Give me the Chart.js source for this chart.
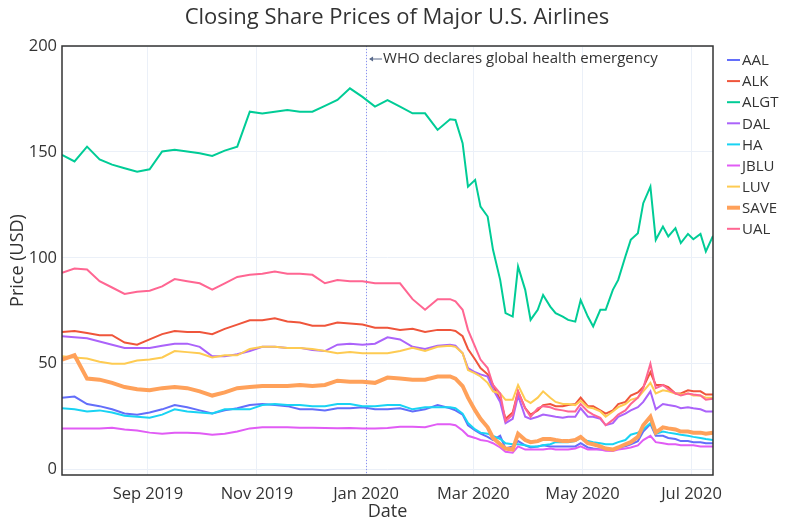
<!DOCTYPE html>
<html>
<head>
<meta charset="utf-8">
<script src="https://cdn.jsdelivr.net/npm/chart.js@4.4.1/dist/chart.umd.min.js"></script>
<style>
  html, body { margin: 0; padding: 0; background: #fff; }
  #wrap { width: 794px; height: 523px; position: relative; }
</style>
</head>
<body>
<div id="wrap"><canvas id="chart"></canvas></div>
<script>
// weekly closes until mid Feb, then Mon/Thu closes through the crash
const dates = [
  "2019-07-15", "2019-07-22", "2019-07-29", "2019-08-05", "2019-08-12", "2019-08-19", "2019-08-26",
  "2019-09-02", "2019-09-09", "2019-09-16", "2019-09-23", "2019-09-30", "2019-10-07", "2019-10-14",
  "2019-10-21", "2019-10-28", "2019-11-04", "2019-11-11", "2019-11-18", "2019-11-25", "2019-12-02",
  "2019-12-09", "2019-12-16", "2019-12-23", "2019-12-30", "2020-01-06", "2020-01-13", "2020-01-20",
  "2020-01-27", "2020-02-03", "2020-02-10", "2020-02-17",
  "2020-02-20", "2020-02-24", "2020-02-27", "2020-03-02", "2020-03-05", "2020-03-09", "2020-03-12",
  "2020-03-16", "2020-03-19", "2020-03-23", "2020-03-26", "2020-03-30", "2020-04-02", "2020-04-06",
  "2020-04-09", "2020-04-13", "2020-04-16", "2020-04-20", "2020-04-23", "2020-04-27", "2020-04-30",
  "2020-05-04", "2020-05-07", "2020-05-11", "2020-05-14", "2020-05-18", "2020-05-21", "2020-05-25",
  "2020-05-28", "2020-06-01", "2020-06-04", "2020-06-08", "2020-06-11", "2020-06-15", "2020-06-18",
  "2020-06-22", "2020-06-25", "2020-06-29", "2020-07-02", "2020-07-06", "2020-07-09", "2020-07-13"
];

const aal = [34, 34.5, 31, 30, 28.5, 26.5, 26, 27, 28.5, 30.5, 29.5, 28, 26.5, 28, 29, 30.5, 31, 30.5, 30, 28.5,
  28.5, 28, 29, 29, 29.5, 28.5, 28.5, 29, 27.5, 28.5, 30.5, 29,
  28, 26, 21, 18.5, 17, 15.5, 14, 16, 10, 11, 13.5, 11.5, 10.5, 11, 11.5, 11, 11, 11, 11, 11,
  12.5, 10.5, 10, 9.5, 9.5, 9.5, 10.5, 11, 12, 13.5, 18, 21.5, 16, 16, 15, 14.5, 13.5, 13.5, 13, 13, 12.5, 12.5];
const alk = [65, 65.5, 64.5, 63.5, 63.5, 60, 59, 61.5, 64, 65.5, 65, 65, 64, 66.5, 68.5, 70.5, 70.5, 71.5, 70, 69.5,
  68, 68, 69.5, 69, 68.5, 67, 67, 66, 66.5, 65, 66, 66,
  65.5, 63, 57, 52, 48, 45, 40, 33, 24, 27, 37, 29, 26, 28, 30.5, 31, 30, 30, 30.5, 31,
  34, 30, 30, 28, 26.5, 28, 31, 32, 35, 36.5, 39, 46, 40, 40, 39, 36, 36, 37.5, 37, 37, 35.5, 35.5];
const algt = [148.6, 145.5, 152.5, 146.5, 144, 142.3, 140.7, 141.8, 150.2, 151, 150.2, 149.4, 148.1, 150.6, 152.5,
  169, 168.2, 169, 169.8, 169, 169, 171.7, 174.5, 180, 176, 171.4, 174.5, 171.4, 168.2, 168.2, 160.4, 165.4,
  165.1, 154.1, 133.6, 136.8, 124.2, 119.5, 103.8, 89.6, 73.9, 72.3, 95.9, 84.9, 70.7, 75.5, 82.5, 77, 73.9, 72.3,
  70.7, 69.9, 80.1, 72.3, 67.6, 75.5, 75.5, 84.9, 89.6, 100.6, 108.5, 111.6, 125.8, 133.6, 108.5, 114.8, 110.1,
  114, 107, 111.3, 108.8, 111.3, 103, 110.4];
const dal = [63, 62.5, 62, 60.5, 59, 57.5, 57.5, 57.5, 58.5, 59.5, 59.5, 58, 53.5, 53.5, 54.5, 56, 58, 58, 57.5, 57.5,
  56.5, 56, 59, 59.5, 59, 59.5, 62.5, 61.5, 58, 57, 58.5, 59,
  58.5, 55, 48, 46, 45, 44, 38, 32, 22, 24, 35, 25, 24, 25, 26, 25.5, 25, 24.5, 25, 25,
  29, 25, 25, 24, 21, 22, 25, 26.5, 28, 29.5, 32, 37, 28.5, 31, 30.5, 30, 29, 29.5, 29, 28.5, 27.5, 27.5];
const ha = [29, 28.5, 27.5, 28, 27, 25.5, 25, 24.5, 26, 28.5, 27.5, 27, 26.5, 28.5, 28.5, 28.5, 30.5, 31, 30.5, 30.5,
  30, 30, 31, 31, 30, 30, 30.5, 30.5, 28.5, 29.5, 29.5, 29.5,
  29, 26.5, 22, 19, 17.5, 17, 16, 14.5, 12.5, 12, 12, 11.5, 11, 11, 11.5, 12, 13, 13, 13, 13.5,
  15, 13.5, 13, 12.5, 12, 12, 13, 14, 16.5, 17.5, 19, 22, 17, 18, 17.5, 17, 16.5, 16, 15.5, 15, 14.5, 14];
const jblu = [19.5, 19.5, 19.5, 19.5, 19.8, 19, 18.5, 17.5, 17, 17.5, 17.5, 17.2, 16.5, 17, 18, 19.5, 20, 20, 20, 19.8,
  19.8, 19.7, 19.6, 19.7, 19.5, 19.5, 19.7, 20.3, 20.3, 20, 21.5, 21.5,
  21, 18.5, 16, 15, 14, 13.5, 12.5, 10.5, 8.5, 8, 11, 9.5, 9.5, 9.5, 9.5, 10, 9.5, 9.5, 9.5, 10,
  11, 9.5, 9.5, 9.5, 9, 8.8, 9.5, 10, 10.5, 11.5, 14, 16, 13, 12.5, 12, 12, 11.5, 11.5, 11.5, 11, 11, 11];
const luv = [53.5, 53, 52.5, 51, 50, 50, 51.5, 52, 53, 56, 55.5, 55, 53, 54, 54, 57, 58, 58, 57.5, 57.5,
  57, 56, 55, 55.5, 55, 55, 55, 56, 57.5, 56, 58, 58.5,
  58, 55, 47, 45.5, 44, 41, 37, 36, 33, 33, 40, 33, 31.5, 34, 37, 34, 32, 31, 31, 30.5,
  32.5, 29.5, 29, 27.5, 25, 27.5, 29.5, 31, 33, 34, 37, 41, 36, 37.5, 37, 36, 35.5, 36, 35, 35, 34, 34];
const save = [52, 54, 43, 42.5, 41, 39, 38, 37.5, 38.5, 39, 38.5, 37, 35, 36.5, 38.5, 39, 39.5, 39.5, 39.5, 40,
  39.5, 40, 42, 41.5, 41.5, 41, 43.5, 43, 42.5, 42.5, 44, 44,
  43, 39.5, 34, 28, 24, 20, 15, 12, 10, 9.5, 17, 14, 13, 13.5, 14.5, 14.5, 14, 13.5, 13.5, 14,
  15.5, 12.5, 12, 11, 10, 9.5, 10.5, 12, 13, 15.5, 21, 25, 17.5, 20, 19.5, 19, 18, 18, 17.5, 17.5, 17, 17.5];
const ual = [93, 95, 94.5, 89, 86, 83, 84, 84.5, 86.5, 90, 89, 88, 85, 88, 91, 92, 92.5, 93.5, 92.5, 92.5,
  92, 88, 89.5, 89, 89, 88, 88, 88, 80.5, 75.5, 80.5, 80.5,
  79.5, 75.5, 66, 58, 52, 48, 40, 36, 23, 26, 37, 29, 25, 29, 30, 29.5, 28.5, 28, 27.5, 27.5,
  31, 27.5, 26, 24.5, 21, 23.5, 26, 28, 31, 34, 38.5, 50, 38.5, 40, 38, 36, 35, 36, 35.5, 35, 33, 33.5];

const tickers = ["AAL", "ALK", "ALGT", "DAL", "HA", "JBLU", "LUV", "SAVE", "UAL"];
const prices = [aal, alk, algt, dal, ha, jblu, luv, save, ual];
const colors = ["#636efa", "#ef553b", "#00cc96", "#ab63fa", "#19d3f3", "#e15cf5", "#fecb52", "#ffa15a", "#ff6692"];
const lineWidths = [2, 2, 2, 2, 2, 2, 2, 4, 2];

const tickDates = ["2019-09-01", "2019-11-01", "2020-01-01", "2020-03-01", "2020-05-01", "2020-07-01"];
const tickLabels = ["Sep 2019", "Nov 2019", "Jan 2020", "Mar 2020", "May 2020", "Jul 2020"];
const yTicks = [0, 50, 100, 150, 200];

const eventDate = "2020-01-01";
const eventText = "WHO declares global health emergency";

const FONT = "'Open Sans', sans-serif";
const dayNum = (s) => Date.parse(s + "T00:00:00Z") / 86400000;

const datasets = tickers.map((name, i) => ({
  label: name,
  data: dates.map((d, j) => ({ x: dayNum(d), y: prices[i][j] })),
  borderColor: colors[i],
  backgroundColor: colors[i],
  borderWidth: lineWidths[i],
  pointRadius: 0,
  tension: 0,
  fill: false,
  order: tickers.length - i, // later traces on top, like plotly
}));

const framePlugin = {
  id: "frame",
  beforeDatasetsDraw(chart) {
    const { ctx, chartArea: a, scales } = chart;
    const x = Math.round(scales.x.getPixelForValue(dayNum(eventDate))) + 0.5;
    ctx.save();
    ctx.strokeStyle = "#8b8ff2";
    ctx.lineWidth = 1;
    ctx.setLineDash([1, 2]);
    ctx.beginPath();
    ctx.moveTo(x, a.top);
    ctx.lineTo(x, a.bottom);
    ctx.stroke();
    ctx.restore();
  },
  afterDatasetsDraw(chart) {
    const { ctx, chartArea: a, scales } = chart;
    ctx.save();
    ctx.strokeStyle = "#333";
    ctx.lineWidth = 1.5;
    ctx.strokeRect(a.left, a.top, a.right - a.left, a.bottom - a.top);

    // annotation arrow + text
    const x = scales.x.getPixelForValue(dayNum(eventDate));
    const y = a.top + 13;
    ctx.strokeStyle = "#5a6b8c";
    ctx.fillStyle = "#5a6b8c";
    ctx.lineWidth = 1;
    ctx.beginPath();
    ctx.moveTo(x + 16, y);
    ctx.lineTo(x + 4, y);
    ctx.stroke();
    ctx.beginPath();
    ctx.moveTo(x + 3, y);
    ctx.lineTo(x + 7, y - 2.5);
    ctx.lineTo(x + 7, y + 2.5);
    ctx.closePath();
    ctx.fill();
    ctx.fillStyle = "#333";
    ctx.font = "15px " + FONT;
    ctx.textBaseline = "middle";
    ctx.textAlign = "left";
    ctx.fillText(eventText, x + 17, y);

    // legend
    const lx = a.right + 14;
    ctx.font = "15px " + FONT;
    tickers.forEach((name, i) => {
      const ly = 60 + i * 21.1;
      ctx.strokeStyle = colors[i];
      ctx.lineWidth = lineWidths[i];
      ctx.beginPath();
      ctx.moveTo(lx, ly);
      ctx.lineTo(lx + 13, ly);
      ctx.stroke();
      ctx.fillStyle = "#333";
      ctx.fillText(name, lx + 15, ly + 1);
    });
    ctx.restore();
  },
};

new Chart(document.getElementById("chart"), {
  type: "line",
  data: { datasets },
  options: {
    responsive: true,
    maintainAspectRatio: false,
    animation: false,
    layout: { padding: 0 },
    plugins: {
      legend: { display: false },
      tooltip: { enabled: false },
      title: {
        display: true,
        text: "Closing Share Prices of Major U.S. Airlines",
        color: "#333",
        font: { family: FONT, size: 22, weight: "normal" },
        padding: { top: 5, bottom: 14.6 },
      },
    },
    scales: {
      x: {
        type: "linear",
        min: dayNum(dates[0]),
        max: dayNum(dates[dates.length - 1]),
        afterBuildTicks: (s) => { s.ticks = tickDates.map((d) => ({ value: dayNum(d) })); },
        afterFit: (s) => { s.height = 48; },
        ticks: {
          autoSkip: false,
          maxRotation: 0,
          padding: 9,
          color: "#333",
          font: { family: FONT, size: 16.5 },
          callback: (v) => tickLabels[tickDates.findIndex((d) => dayNum(d) === v)],
        },
        grid: { color: "#ebf0f8", drawTicks: false },
        border: { display: false },
        title: {
          display: true,
          text: "Date",
          color: "#333",
          font: { family: FONT, size: 18 },
          padding: { top: 0, bottom: 0 },
        },
      },
      y: {
        min: -2.5,
        max: 200,
        afterBuildTicks: (s) => { s.ticks = yTicks.map((v) => ({ value: v })); },
        afterFit: (s) => { s.width = 62; },
        ticks: {
          padding: 5,
          color: "#333",
          font: { family: FONT, size: 16.5 },
        },
        grid: { color: "#ebf0f8", drawTicks: false },
        border: { display: false },
        title: {
          display: true,
          text: "Price (USD)",
          color: "#333",
          font: { family: FONT, size: 18 },
          padding: { top: 7, bottom: 0 },
        },
      },
      // empty right axis just reserves room for the legend
      legendSpace: {
        position: "right",
        display: true,
        afterFit: (s) => { s.width = 81; },
        ticks: { display: false },
        grid: { display: false },
        border: { display: false },
      },
    },
  },
  plugins: [framePlugin],
});
</script>
</body>
</html>
